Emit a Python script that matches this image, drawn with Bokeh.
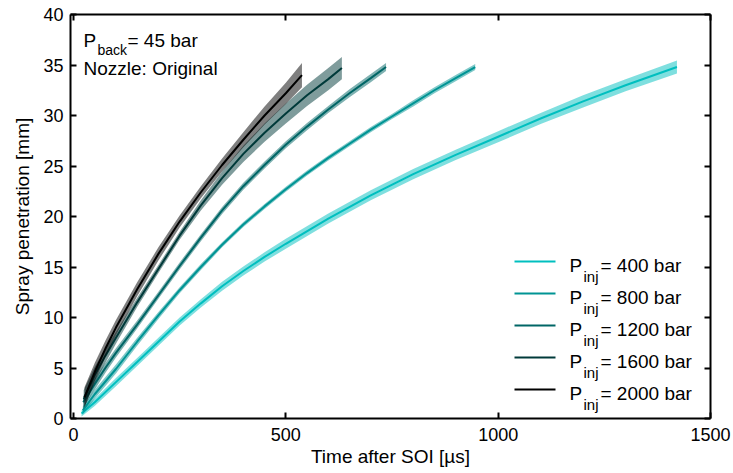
from bokeh.plotting import figure
from bokeh.models import LinearAxis, Range1d, Label, FixedTicker, Arrow
from bokeh.embed import file_html
from bokeh.resources import INLINE

# ---------------- data ----------------
pressures = ["400", "800", "1200", "1600", "2000"]

t400 = [19, 50, 100, 150, 200, 250, 300, 350, 400, 450, 500, 600, 700, 800, 900, 1000, 1100, 1200, 1300, 1421]
s400 = [0.5, 1.6, 3.6, 5.6, 7.6, 9.6, 11.4, 13.1, 14.6, 16.0, 17.3, 19.8, 22.1, 24.2, 26.1, 27.9, 29.7, 31.4, 33.0, 34.8]
b400 = [0.3, 0.35, 0.4, 0.4, 0.4, 0.4, 0.4, 0.45, 0.45, 0.45, 0.5, 0.5, 0.5, 0.5, 0.5, 0.55, 0.55, 0.6, 0.6, 0.65]

t800 = [22, 50, 100, 150, 200, 250, 300, 350, 400, 450, 500, 550, 600, 650, 700, 750, 800, 850, 900, 946]
s800 = [0.8, 2.4, 4.9, 7.6, 10.2, 12.7, 15.0, 17.2, 19.2, 21.0, 22.7, 24.3, 25.8, 27.2, 28.6, 29.9, 31.2, 32.5, 33.7, 34.8]
b800 = [0.4, 0.45, 0.45, 0.4, 0.35, 0.3, 0.3, 0.25, 0.25, 0.25, 0.25, 0.25, 0.25, 0.25, 0.25, 0.25, 0.3, 0.3, 0.3, 0.3]

t1200 = [23, 50, 75, 100, 150, 200, 250, 300, 350, 400, 450, 500, 550, 600, 650, 700, 736]
s1200 = [1.6, 3.4, 5.0, 6.5, 9.3, 12.2, 15.1, 17.9, 20.6, 23.0, 25.1, 27.1, 28.9, 30.6, 32.2, 33.7, 34.8]
b1200 = [0.6, 0.55, 0.5, 0.45, 0.4, 0.35, 0.35, 0.35, 0.35, 0.35, 0.35, 0.35, 0.35, 0.35, 0.4, 0.4, 0.4]

t1600 = [24, 50, 75, 100, 150, 200, 250, 300, 350, 400, 450, 500, 550, 600, 632]
s1600 = [1.9, 4.3, 6.2, 8.0, 11.5, 14.8, 18.1, 21.1, 23.8, 26.2, 28.3, 30.2, 32.0, 33.6, 34.7]
b1600 = [0.9, 0.8, 0.7, 0.6, 0.45, 0.4, 0.4, 0.5, 0.65, 0.8, 0.9, 1.0, 1.05, 1.1, 1.1]

t2000 = [26, 50, 75, 100, 150, 200, 250, 300, 350, 400, 450, 500, 538]
s2000 = [2.1, 4.6, 6.9, 9.0, 12.8, 16.3, 19.5, 22.4, 25.1, 27.6, 30.0, 32.2, 34.0]
b2000 = [1.0, 0.9, 0.8, 0.75, 0.7, 0.65, 0.6, 0.6, 0.65, 0.75, 0.9, 1.05, 1.2]

x_ticks = [0, 500, 1000, 1500]
y_ticks = [0, 5, 10, 15, 20, 25, 30, 35, 40]

colors = ["#00BFBF", "#009494", "#006666", "#003A3A", "#000000"]

series = [
    (t400, s400, b400),
    (t800, s800, b800),
    (t1200, s1200, b1200),
    (t1600, s1600, b1600),
    (t2000, s2000, b2000),
]

FONT = "Liberation Sans"
FS = "18px"
AXFS = "19px"
TXT = "19px"

# ---------------- figure ----------------
p = figure(width=733, height=473, x_range=Range1d(-7, 1500), y_range=Range1d(0, 40),
           output_backend="svg", toolbar_location=None,
           min_border_left=70, min_border_right=23, min_border_top=14, min_border_bottom=55)
p.outline_line_color = None
p.xgrid.visible = False
p.ygrid.visible = False
p.background_fill_color = "white"
p.border_fill_color = "white"

p.add_layout(LinearAxis(), "above")
p.add_layout(LinearAxis(), "right")

for ax in p.xaxis:
    ax.ticker = FixedTicker(ticks=x_ticks)
for ax in p.yaxis:
    ax.ticker = FixedTicker(ticks=y_ticks)

for ax in p.axis:
    ax.axis_line_color = "black"
    ax.axis_line_width = 2
    ax.major_tick_in = 6
    ax.major_tick_out = 0
    ax.major_tick_line_width = 2
    ax.major_tick_line_color = "black"
    ax.minor_tick_in = 0
    ax.minor_tick_out = 0
    ax.major_label_text_font = FONT
    ax.major_label_text_font_size = FS
    ax.major_label_text_color = "black"
    ax.axis_label_text_font = FONT
    ax.axis_label_text_font_size = AXFS
    ax.axis_label_text_font_style = "normal"
    ax.axis_label_text_color = "black"

# hide labels on top/right axes
p.above[0].major_label_overrides = {v: "" for v in x_ticks}
p.right[0].major_label_overrides = {v: "" for v in y_ticks}
p.above[0].major_label_text_font_size = "1px"
p.right[0].major_label_text_font_size = "1px"

p.below[0].axis_label = "Time after SOI [µs]"
p.below[0].major_label_standoff = 9
p.below[0].axis_label_standoff = 2
p.left[0].axis_label = "Spray penetration [mm]"
p.left[0].major_label_standoff = 7
p.left[0].axis_label_standoff = 7

# ---------------- bands and lines ----------------
for (t, s, b), c in zip(series, colors):
    lo = [si - bi for si, bi in zip(s, b)]
    hi = [si + bi for si, bi in zip(s, b)]
    p.varea(x=t, y1=lo, y2=hi, fill_color=c, fill_alpha=0.5)
    p.line(x=t, y=s, line_color=c, line_width=2)

# ---------------- annotation text (frame-relative screen units) ----------------
FL, FB = 70, 418  # frame left / bottom in page pixels


def label(text, px, py, size=TXT):
    return Label(x=px - FL, y=FB - py, x_units="screen", y_units="screen", text=text,
                 text_font=FONT, text_font_size=size, text_color="black",
                 text_baseline="alphabetic", text_align="left")


p.add_layout(label("P", 83, 40))
p.add_layout(label("back", 97, 49, "14px"))
p.add_layout(label("= 45 bar", 127, 40))
p.add_layout(label("Nozzle: Original", 83, 68))

# ---------------- legend (manual, with subscripts) ----------------
for i, (pr, c) in enumerate(zip(pressures, colors)):
    yc = 261 + 32 * i
    p.add_layout(Arrow(end=None, x_start=514 - FL, y_start=FB - yc, x_end=555 - FL, y_end=FB - yc,
                       start_units="screen", end_units="screen", line_color=c, line_width=2))
    p.add_layout(label("P", 569, yc + 4))
    p.add_layout(label("inj", 583, yc + 15, "15px"))
    p.add_layout(label("= " + pr + " bar", 600, yc + 4))

open("out.html", "w").write(file_html(p, INLINE))
